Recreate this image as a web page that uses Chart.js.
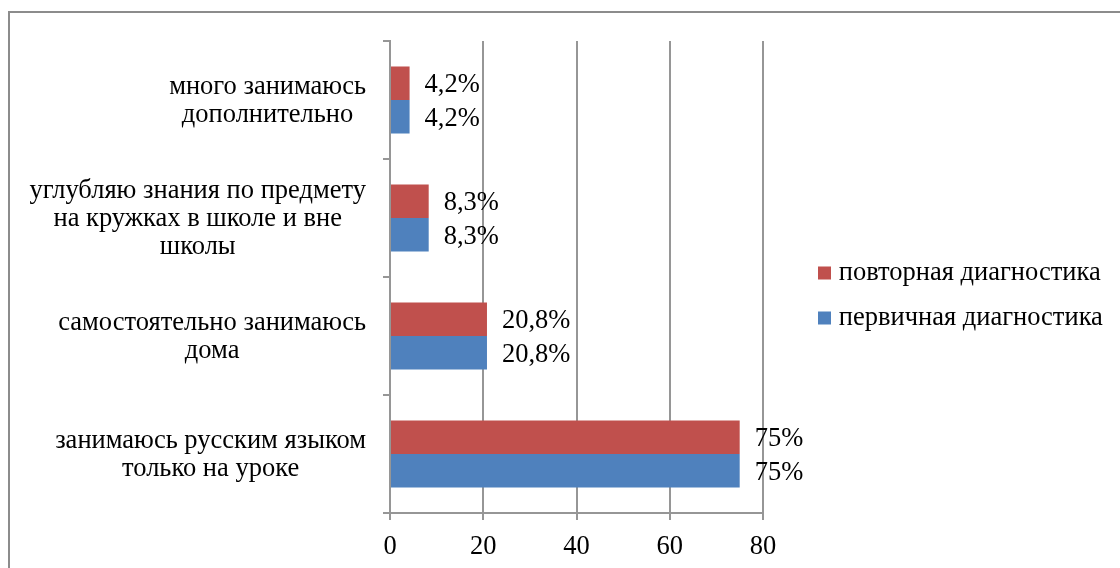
<!DOCTYPE html>
<html><head><meta charset="utf-8">
<script src="https://cdn.jsdelivr.net/npm/chart.js@4.4.1/dist/chart.umd.min.js"></script>
<style>
html,body{margin:0;padding:0;background:#fff;overflow:hidden;width:1120px;height:568px;}
#frame{position:absolute;left:8px;top:11px;width:1200px;height:700px;border:2px solid #8c8c8c;box-sizing:border-box;}
#c{position:absolute;left:0;top:0;}
</style></head><body>
<div id="frame"></div>
<canvas id="c" width="1120" height="568"></canvas>
<script>
const categories = [
  ["много занимаюсь", "дополнительно"],
  ["углубляю знания по предмету", "на кружках в школе и вне", "школы"],
  ["самостоятельно занимаюсь", "дома"],
  ["занимаюсь русским языком", "только на уроке"]
];
const seriesNames = ["повторная диагностика", "первичная диагностика"];
const repeatValues = [4.2, 8.3, 20.8, 75];
const initialValues = [4.2, 8.3, 20.8, 75];
const xTicks = [0, 20, 40, 60, 80];

const FONT = '"Liberation Serif", "Times New Roman", serif';
const FS = 26.5;
const GRID = '#969696';

// layout helpers
const mctx = document.createElement('canvas').getContext('2d');
mctx.font = FS + 'px ' + FONT;
const maxLegendText = Math.max(...seriesNames.map(s => mctx.measureText(s).width));
const LEG_PAD = 18.5, LEG_BOX = 2, GAP_AXIS = 42, PLOT_RIGHT = 763;
const legendW = LEG_PAD + (LEG_BOX + FS / 2 + maxLegendText) + 10;
const padRight = Math.max(0, 1120 - PLOT_RIGHT - GAP_AXIS - legendW);

const yLabelPlugin = {
  id: 'yLabels',
  afterDraw(chart) {
    const ctx = chart.ctx, ys = chart.scales.y;
    ctx.save();
    ctx.font = FS + 'px ' + FONT;
    ctx.fillStyle = '#000';
    ctx.textAlign = 'center';
    ctx.textBaseline = 'middle';
    const right = chart.chartArea.left - 24;
    const lh = 28;
    categories.forEach((lines, i) => {
      const yc = ys.getPixelForValue(i) + 1;
      const w = Math.max(...lines.map(l => ctx.measureText(l).width));
      const cx = right - w / 2;
      lines.forEach((l, j) => ctx.fillText(l, cx, yc + (j - (lines.length - 1) / 2) * lh));
    });
    ctx.restore();
  }
};

const dataLabelPlugin = {
  id: 'dataLabels',
  afterDatasetsDraw(chart) {
    const ctx = chart.ctx;
    ctx.save();
    ctx.font = FS + 'px ' + FONT;
    ctx.fillStyle = '#000';
    ctx.textAlign = 'left';
    ctx.textBaseline = 'middle';
    chart.data.datasets.forEach((ds, di) => {
      const meta = chart.getDatasetMeta(di);
      meta.data.forEach((bar, i) => {
        ctx.fillText(String(ds.data[i]).replace('.', ',') + '%', bar.x + 15, bar.y + 2);
      });
    });
    ctx.restore();
  }
};

new Chart(document.getElementById('c'), {
  type: 'bar',
  data: {
    labels: categories.map(l => l.join(' ')),
    datasets: [
      {label: seriesNames[0], data: repeatValues, backgroundColor: '#C0504D', categoryPercentage: 0.568, barPercentage: 1},
      {label: seriesNames[1], data: initialValues, backgroundColor: '#4F81BD', categoryPercentage: 0.568, barPercentage: 1}
    ]
  },
  options: {
    indexAxis: 'y',
    responsive: false,
    animation: false,
    devicePixelRatio: 1,
    layout: {padding: {top: 33, bottom: 10, left: 0, right: padRight}},
    scales: {
      x: {
        type: 'linear', min: 0, max: 80, position: 'bottom',
        grid: {color: GRID, lineWidth: 2, tickLength: 7, drawTicks: true},
        border: {color: GRID, width: 2},
        ticks: {font: {family: FONT, size: FS}, color: '#000', padding: 11},
        afterBuildTicks: s => { s.ticks = xTicks.map(v => ({value: v})); },
        afterFit: s => { s.height = 45; }
      },
      y: {
        type: 'category', position: 'left', offset: true,
        grid: {offset: true, drawOnChartArea: false, drawTicks: true, tickLength: 7, color: GRID, lineWidth: 2},
        border: {color: GRID, width: 2},
        ticks: {display: false},
        afterFit: s => { s.width = 390; }
      },
      pad: {
        axis: 'y', type: 'linear', position: 'right', display: true,
        grid: {display: false}, border: {display: false}, ticks: {display: false},
        afterFit: s => { s.width = GAP_AXIS; }
      },
      padTop: {
        axis: 'x', type: 'linear', position: 'top', display: true,
        grid: {display: false}, border: {display: false}, ticks: {display: false},
        afterFit: s => { s.height = 8; }
      }
    },
    plugins: {
      legend: {
        position: 'right', maxWidth: 600,
        labels: {usePointStyle: true, pointStyle: 'rect', boxWidth: LEG_BOX, boxHeight: 13, padding: LEG_PAD, color: '#000', font: {family: FONT, size: FS}}
      },
      tooltip: {enabled: false}
    }
  },
  plugins: [yLabelPlugin, dataLabelPlugin]
});
</script>
</body></html>
